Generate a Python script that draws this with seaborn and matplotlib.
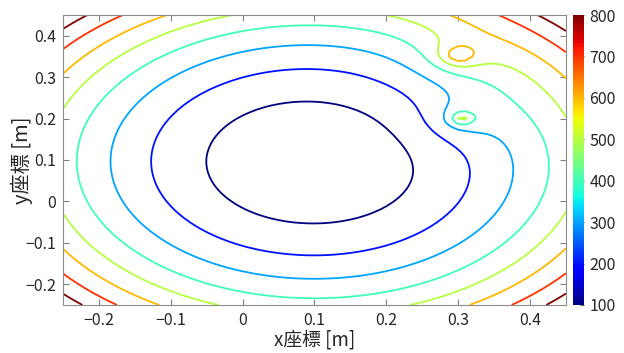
import numpy as np
import matplotlib
matplotlib.use('Agg')
import matplotlib.pyplot as plt
import seaborn as sns

# contour levels and axis ticks
levels = [100, 200, 300, 400, 500, 600, 700, 800]
xticks = [-0.2, -0.1, 0, 0.1, 0.2, 0.3, 0.4]
xtick_labels = ['−0.2', '−0.1', '0', '0.1', '0.2', '0.3', '0.4']
yticks = [-0.2, -0.1, 0, 0.1, 0.2, 0.3, 0.4]
ytick_labels = ['−0.2', '−0.1', '0', '0.1', '0.2', '0.3', '0.4']
cbar_ticks = [100, 200, 300, 400, 500, 600, 700, 800]

# field parameters estimated from the contour shapes
bowl_center = (0.10, 0.097)
bowl_base = 18.0
bowl_coef = 3475.0
# two local peaks: broad part + sharp part
bump_x = [0.300, 0.305]
bump_y = [0.352, 0.200]
broad_amp = [200.0, 160.0]
broad_width = [0.035, 0.040]
sharp_amp = [75.0, 160.0]
sharp_width = [0.015, 0.010]

sns.set_theme(style='white')
plt.rcParams['font.family'] = ['Liberation Sans Narrow', 'Noto Sans CJK JP', 'DejaVu Sans']

x = np.arange(-0.25, 0.4501, 0.01)
y = np.arange(-0.25, 0.4501, 0.01)
X, Y = np.meshgrid(x, y)
Z = bowl_base + bowl_coef * ((X - bowl_center[0]) ** 2 + (Y - bowl_center[1]) ** 2)
for i in range(len(bump_x)):
    d2 = (X - bump_x[i]) ** 2 + (Y - bump_y[i]) ** 2
    Z += broad_amp[i] / (1 + d2 / broad_width[i] ** 2)
    Z += sharp_amp[i] * np.exp(-d2 / (2 * sharp_width[i] ** 2))

jet = matplotlib.colormaps['jet']
norm = matplotlib.colors.Normalize(vmin=100, vmax=800)

fig = plt.figure(figsize=(6.24, 3.53), dpi=100)
ax = fig.add_axes([0.101, 0.136, 0.806, 0.8215])
cax = fig.add_axes([0.918, 0.136, 0.018, 0.8215])

ax.contour(X, Y, Z, levels=levels, cmap=jet, norm=norm, linewidths=1.3)
ax.set_xlim(-0.25, 0.45)
ax.set_ylim(-0.25, 0.45)
ax.set_xticks(xticks)
ax.set_xticklabels(xtick_labels)
ax.set_yticks(yticks)
ax.set_yticklabels(ytick_labels)
ax.tick_params(direction='in', length=4, width=0.8, color='#808080',
               labelsize=11.5, labelcolor='#262626', top=True, right=True,
               bottom=True, left=True, pad=5)
for s in ax.spines.values():
    s.set_color('#8c8c8c')
    s.set_linewidth(0.8)
ax.set_xlabel('x座標 [m]', fontsize=13.5, color='#262626')
ax.set_ylabel('y座標 [m]', fontsize=14.5, color='#262626')
ax.xaxis.set_label_coords(0.5, -0.085)
ax.yaxis.set_label_coords(-0.06, 0.5)

sm = matplotlib.cm.ScalarMappable(norm=norm, cmap=jet)
cb = fig.colorbar(sm, cax=cax, ticks=cbar_ticks)
cb.outline.set_visible(False)
cax.tick_params(direction='in', length=3, width=0.8, color='#606060',
                labelsize=11.5, labelcolor='#262626', pad=4)

fig.savefig('out.png', dpi=100)
